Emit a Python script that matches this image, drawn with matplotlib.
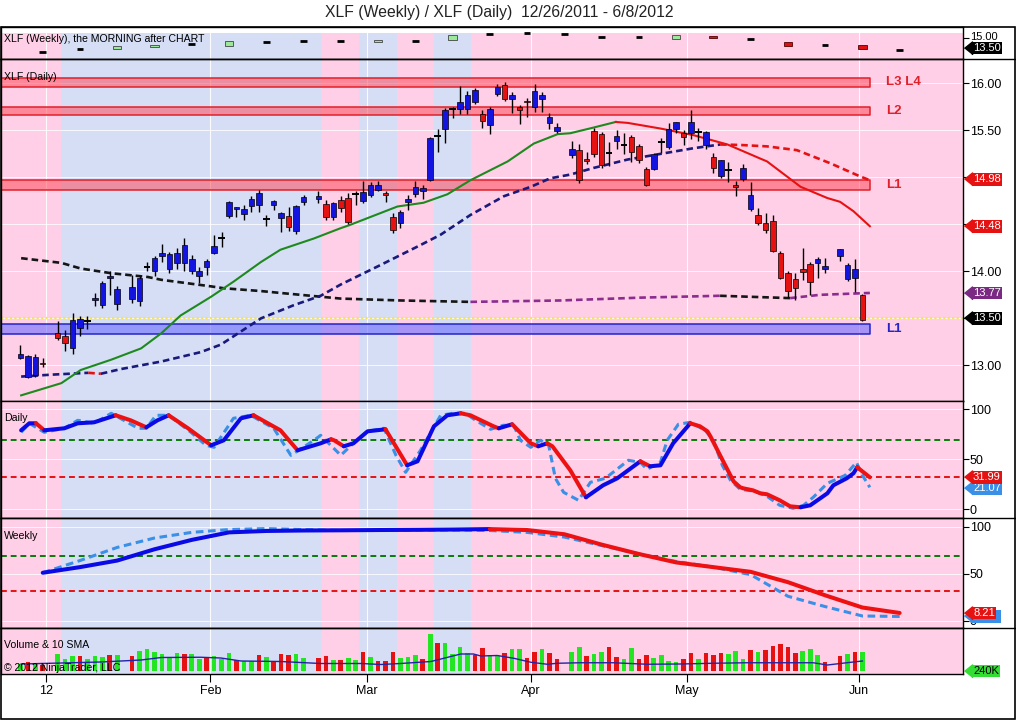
import numpy as np
import pandas as pd
import matplotlib
matplotlib.use("Agg")
import matplotlib.pyplot as plt
from matplotlib.transforms import ScaledTranslation
from matplotlib.lines import Line2D
from matplotlib.patches import Rectangle

plt.rcParams['font.family'] = ['Liberation Sans', 'DejaVu Sans']

# ---------------- data ----------------
# weekday calendar, market holidays are left as empty slots
calendar = pd.bdate_range('2011-12-27', '2012-06-29')
holidays = pd.to_datetime(['2012-01-02', '2012-01-16', '2012-02-20', '2012-04-06', '2012-05-28'])
trade_days = pd.bdate_range('2011-12-27', '2012-06-01').difference(holidays)

opens = [13.08, 12.88, 12.90, 13.02,
         13.34, 13.31, 13.18, 13.40, 13.47, 13.69, 13.64, 13.93, 13.65,
         13.71, 13.68, 14.05, 14.00, 14.16, 14.03, 14.09, 14.09, 14.00, 13.95, 14.05, 14.20,
         14.35, 14.59, 14.66, 14.61, 14.70, 14.71, 14.56, 14.71, 14.57, 14.59, 14.43, 14.74,
         14.77, 14.72, 14.58, 14.76, 14.78, 14.82, 14.75, 14.81, 14.87, 14.83, 14.58, 14.51,
         14.74, 14.82, 14.85, 14.97, 15.44, 15.51, 15.73, 15.73, 15.73, 15.80, 15.67, 15.56,
         15.89, 15.98, 15.83, 15.75, 15.81, 15.75, 15.83, 15.58, 15.49,
         15.24, 15.29, 15.20, 15.49, 15.46, 15.26, 15.39, 15.35, 15.43, 15.33, 15.09, 15.09,
         15.38, 15.32, 15.52, 15.47, 15.47, 15.48, 15.34, 15.22, 15.02, 15.08, 14.92, 14.98,
         14.66, 14.60, 14.51, 14.54, 14.20, 13.98, 13.92, 14.02, 14.08, 14.09, 14.02,
         14.16, 13.92, 13.93, 13.75]
highs = [13.22, 13.11, 13.12, 13.08,
         13.47, 13.38, 13.56, 13.52, 13.53, 13.77, 13.90, 14.00, 13.84,
         13.96, 13.95, 14.10, 14.16, 14.29, 14.21, 14.25, 14.35, 14.17, 14.05, 14.13, 14.39,
         14.42, 14.75, 14.68, 14.71, 14.80, 14.87, 14.60, 14.76, 14.63, 14.68, 14.71, 14.81,
         14.86, 14.76, 14.74, 14.80, 14.83, 14.85, 14.96, 14.95, 14.96, 14.86, 14.62, 14.65,
         14.81, 14.96, 14.92, 15.43, 15.51, 15.74, 15.75, 15.97, 15.92, 15.95, 15.72, 15.75,
         15.99, 16.02, 15.91, 15.77, 15.84, 15.99, 15.91, 15.69, 15.58,
         15.39, 15.36, 15.27, 15.53, 15.48, 15.38, 15.50, 15.47, 15.45, 15.36, 15.11, 15.26,
         15.42, 15.58, 15.59, 15.50, 15.72, 15.53, 15.49, 15.26, 15.19, 15.16, 14.96, 15.14,
         14.95, 14.67, 14.62, 14.60, 14.22, 14.00, 13.98, 14.25, 14.10, 14.15, 14.14,
         14.24, 14.09, 14.13, 13.76]
lows = [13.07, 12.87, 12.88, 12.98,
        13.27, 13.15, 13.12, 13.31, 13.39, 13.63, 13.61, 13.75, 13.59,
        13.66, 13.63, 14.00, 13.95, 14.10, 13.98, 14.03, 14.00, 13.97, 13.88, 13.96, 14.18,
        14.26, 14.57, 14.58, 14.55, 14.63, 14.63, 14.48, 14.65, 14.42, 14.43, 14.40, 14.71,
        14.73, 14.55, 14.55, 14.63, 14.50, 14.71, 14.73, 14.79, 14.85, 14.74, 14.41, 14.46,
        14.65, 14.79, 14.77, 14.96, 15.27, 15.37, 15.63, 15.67, 15.67, 15.78, 15.53, 15.46,
        15.87, 15.81, 15.69, 15.57, 15.64, 15.70, 15.70, 15.51, 15.47,
        15.21, 14.94, 15.14, 15.22, 15.10, 15.12, 15.30, 15.25, 15.16, 15.15, 14.91, 15.08,
        15.26, 15.30, 15.47, 15.34, 15.41, 15.39, 15.30, 15.05, 14.99, 14.95, 14.80, 14.96,
        14.64, 14.49, 14.41, 14.21, 13.92, 13.73, 13.70, 13.91, 13.75, 13.93, 13.98,
        14.11, 13.90, 13.78, 13.47]
closes = [13.12, 13.10, 13.09, 13.01,
          13.29, 13.24, 13.48, 13.49, 13.47, 13.72, 13.88, 13.95, 13.81,
          13.83, 13.93, 14.05, 14.14, 14.19, 14.18, 14.20, 14.28, 14.13, 14.00, 14.11, 14.27,
          14.35, 14.74, 14.68, 14.66, 14.77, 14.83, 14.56, 14.75, 14.62, 14.47, 14.70, 14.79,
          14.80, 14.58, 14.73, 14.67, 14.53, 14.82, 14.84, 14.92, 14.92, 14.81, 14.44, 14.63,
          14.77, 14.90, 14.89, 15.42, 15.44, 15.72, 15.73, 15.80, 15.88, 15.93, 15.60, 15.73,
          15.96, 15.83, 15.88, 15.72, 15.80, 15.92, 15.88, 15.64, 15.54,
          15.30, 14.97, 15.17, 15.25, 15.13, 15.26, 15.44, 15.35, 15.27, 15.19, 14.92, 15.25,
          15.38, 15.51, 15.59, 15.43, 15.59, 15.48, 15.48, 15.10, 15.19, 15.08, 14.90, 15.10,
          14.81, 14.51, 14.44, 14.22, 13.93, 13.79, 13.82, 13.99, 13.89, 14.13, 14.06,
          14.24, 14.07, 14.03, 13.48]

# volume in millions and bar colour (g = up, r = down)
volume = [28, 36, 32, 24,
          68, 48, 60, 60, 48, 60, 55, 64, 64,
          60, 80, 88, 76, 68, 55, 71, 68, 68, 48, 55, 60,
          47, 73, 44, 40, 40, 64, 55, 40, 68, 64, 68, 51,
          51, 60, 44, 44, 51, 44, 75, 55, 40, 40, 75, 51,
          55, 64, 47, 148, 111, 111, 67, 96, 73, 64, 92, 64,
          61, 73, 88, 88, 53, 77, 88, 73, 48,
          77, 97, 60, 68, 77, 97, 57, 47, 93, 48, 64, 53,
          64, 40, 37, 48, 73, 48, 73, 64, 71, 69, 81, 48,
          84, 77, 84, 100, 108, 97, 71, 80, 88, 64, 36,
          59, 68, 75, 77]
vol_dir = list("grgr" "gggrgggrg" "rggggggrggrg" "ggrggrgrrrgg"
               "rrgrggrgrrrg" "ggrgrggggrrg" "grggrrgrrg"
               "grggrrggrrgggg" "rrgrrrgggrgr" "rrrrgggrr" "grgr")
vol_sma_x = [0.1, 5.5, 10.8, 16.2, 18.9, 24.2, 26.9, 29.6, 34.9, 40.3, 45.7, 48.4, 51.0, 55.1,
             59.1, 60.8, 61.8, 64.0, 66.2, 68.5, 70.7, 72.1, 75.2, 79.6, 84.1, 88.6, 93.0,
             97.5, 101.9, 106.4, 108.3, 110.9, 113.0]
vol_sma = [28, 32, 36, 44, 54, 55, 52, 40, 38, 30, 30, 26, 30, 38, 68, 68, 60, 62, 51, 35,
           27, 31, 33, 33, 27, 28, 31, 33, 33, 33, 24, 33, 40]

# moving averages, read at sample points (x = calendar slot)
ma20_x = [0.1, 5.5, 8.1, 12.2, 16.2, 18.9, 21.5, 25.6, 28.6, 32.3, 34.9, 39.4, 43.0, 44.1,
          50.6, 54.1, 57.3, 60.4, 65.4, 68.9, 72.1, 73.8, 76.9, 79.9, 81.5, 85.9, 90.3,
          94.9, 99.3, 100.2, 104.7, 108.3, 110.0, 111.8, 114.0]
ma20 = [12.68, 12.81, 12.95, 13.06, 13.18, 13.34, 13.53, 13.73, 13.89, 14.10, 14.23, 14.35,
        14.46, 14.49, 14.69, 14.73, 14.82, 14.97, 15.17, 15.36, 15.46, 15.47, 15.53, 15.59,
        15.58, 15.52, 15.45, 15.35, 15.20, 15.17, 14.90, 14.78, 14.74, 14.64, 14.48]
ma50_x = [0.1, 4.1, 9.1, 10.8, 13.5, 18.9, 24.2, 26.9, 29.6, 32.3, 36.7, 40.3, 43.0, 48.4,
          53.7, 56.4, 60.4, 64.9, 68.5, 71.1, 73.8, 76.9, 81.5, 85.9, 90.3, 93.9, 96.6,
          100.2, 104.2, 108.7, 112.7, 114.0]
ma50 = [12.88, 12.90, 12.92, 12.91, 12.96, 13.04, 13.14, 13.22, 13.36, 13.50, 13.64, 13.74,
        13.86, 14.07, 14.28, 14.39, 14.60, 14.80, 14.90, 14.99, 15.03, 15.10, 15.19, 15.25,
        15.31, 15.35, 15.345, 15.33, 15.29, 15.15, 15.01, 14.97]
ma200_x = [0.1, 5.5, 8.1, 12.2, 17.1, 18.9, 25.6, 27.3, 32.3, 34.9, 43.0, 51.0, 60.4, 72.5,
           83.2, 93.9, 103.3, 107.3, 114.0]
ma200 = [14.14, 14.09, 14.03, 13.98, 13.94, 13.91, 13.84, 13.82, 13.79, 13.77, 13.71, 13.69,
         13.675, 13.69, 13.72, 13.74, 13.715, 13.75, 13.77]

# support / resistance zones
zone_names = ['L3 L4', 'L2', 'L1', 'L1']
zone_lo = [15.96, 15.66, 14.87, 13.33]
zone_hi = [16.06, 15.75, 14.97, 13.44]
zone_kind = ['res', 'res', 'res', 'sup']
last_price = 13.50

# weekly bars (strip on top), one per Friday
week_ends = pd.date_range('2011-12-30', '2012-06-08', freq='W-FRI')
week_open = [12.95, 13.31, 13.35, 13.70, 14.03, 13.80, 14.45, 14.55, 14.60, 14.40, 14.60, 14.75,
             15.60, 15.70, 15.60, 15.10, 15.10, 14.90, 15.35, 14.80, 14.45, 13.95, 14.00, 13.20]
week_close = [12.95, 13.31, 13.75, 14.00, 14.03, 14.50, 14.45, 14.55, 14.60, 14.70, 14.60, 15.45,
              15.60, 15.70, 15.60, 15.10, 15.10, 15.50, 15.05, 14.80, 13.75, 13.95, 13.40, 13.20]

# stochastics
daily_d_x = [0.1, 1.2, 2.1, 3.2, 5.9, 7.7, 9.9, 12.8, 14.8, 16.9, 18.4, 19.9, 22.5, 25.6, 27.3,
             29.6, 31.3, 34.9, 37.2, 40.3, 41.7, 42.1, 43.4, 44.7, 46.6, 49.0, 51.9, 53.3, 55.5,
             57.3, 59.1, 60.4, 63.5, 64.2, 66.0, 68.5, 69.5, 70.7, 71.4, 73.8, 75.9, 78.2, 80.1,
             83.2, 84.5, 85.9, 87.6, 89.9, 91.2, 92.2, 92.6, 93.9, 95.7, 96.6, 97.0, 98.3, 99.3,
             100.2, 101.9, 103.3, 104.7, 106.0, 108.3, 109.1, 110.9, 111.8, 112.3, 114.0]
daily_d = [79, 86, 86, 79, 81, 86, 87, 94, 89, 82, 89, 94, 81, 64, 69, 91, 94, 79, 59, 66, 70,
           69, 63, 66, 78, 80, 44, 48, 83, 94, 96, 94, 83, 81, 85, 66, 63, 66, 63, 39, 12, 24,
           31, 48, 43, 44, 66, 86, 83, 78, 73, 54, 28, 22, 21, 19, 16, 15, 9, 3, 2, 4, 16, 24,
           31, 36, 42, 32]
daily_k_x = [0.1, 1.2, 3.2, 5.9, 7.7, 9.9, 12.2, 15.8, 16.9, 18.2, 19.9, 22.9, 24.9, 26.0, 28.6,
             30.9, 34.0, 36.3, 39.4, 40.3, 43.0, 45.1, 46.6, 48.8, 50.4, 51.7, 53.7, 56.4, 58.0,
             59.7, 61.1, 63.1, 64.8, 66.2, 67.1, 68.5, 69.8, 70.9, 71.8, 72.9, 74.9, 76.5, 78.5,
             81.6, 83.2, 84.1, 85.9, 86.8, 88.3, 89.9, 91.9, 93.0, 94.2, 95.3, 96.6, 98.6, 100.2,
             101.9, 103.7, 105.1, 106.4, 108.3, 110.7, 112.2, 113.0, 114.0]
daily_k = [77, 86, 77, 81, 89, 86, 96, 81, 81, 94, 94, 77, 64, 62, 91, 94, 81, 54, 69, 74, 54,
           69, 78, 81, 54, 37, 59, 94, 96, 96, 89, 80, 84, 84, 69, 62, 69, 64, 31, 17, 9, 27,
           31, 49, 47, 40, 47, 69, 85, 87, 79, 69, 44, 29, 20, 18, 13, 4, 1, 4, 12, 26, 34, 47,
           34, 22]
weekly_d = [51, 57, 64, 76, 86, 94, 95.5, 96, 96.2, 96.5, 96.7, 97, 97.5, 96.5, 92, 81, 71, 62,
            57, 52, 41, 27, 14, 8.21]
weekly_k = [51, 64, 78, 88, 94, 97, 98, 97, 96, 96, 96.5, 96.5, 96, 94, 89, 80, 71, 63, 57, 49,
            26, 15, 5, 4.5]
overbought, oversold = 69, 32

# background regime shading
regime_edges = [-3, 5.5, 40.5, 45.5, 50.5, 55.5, 60.5, 130]
regime_kind = ['pink', 'blue', 'pink', 'blue', 'pink', 'blue', 'pink']

month_starts = pd.to_datetime(['2012-01-01', '2012-02-01', '2012-03-01', '2012-04-01',
                               '2012-05-01', '2012-06-01'])
month_labels = ['12', 'Feb', 'Mar', 'Apr', 'May', 'Jun']

# ---------------- derived positions ----------------
day_x = calendar.get_indexer(trade_days).astype(float)
week_x = calendar.get_indexer(week_ends).astype(float)
month_x = calendar.searchsorted(month_starts) - 0.5
o, h, l, c = map(np.array, (opens, highs, lows, closes))
band_end = day_x[-1] + 1

PINK = '#FFCFE7'
BLUE = '#D6DEF5'
UPC = '#1414E0'
DNC = '#E61212'
LBL = 7.6

fig = plt.figure(figsize=(10.16, 7.2), dpi=100)
W, H = 1016, 720


def panel(top, bottom):
    return fig.add_axes([1 / W, 1 - bottom / H, 962 / W, (bottom - top) / H])


ax_w = panel(27, 59)
ax_p = panel(59, 401)
ax_d = panel(401, 518)
ax_k = panel(518, 628)
ax_v = panel(628, 674)
axes = [ax_w, ax_p, ax_d, ax_k, ax_v]

for ax in axes:
    ax.set_xlim(-2.6, 126.5)
    top = 0.8 if ax is ax_w else 1
    for lo, hi, kind in zip(regime_edges[:-1], regime_edges[1:], regime_kind):
        ax.axvspan(lo, hi, ymin=0, ymax=top, color=PINK if kind == 'pink' else BLUE, lw=0, zorder=0)
    for mx in month_x:
        ax.axvline(mx, color='white', lw=0.8, alpha=0.9, zorder=0.5)
    ax.yaxis.tick_right()
    ax.tick_params(axis='y', direction='out', length=4, labelsize=9, pad=1, width=0.8)
    ax.tick_params(axis='x', length=0, labelbottom=False)
    for s in ax.spines.values():
        s.set_linewidth(1.0)
        s.set_color('black')


def slope_line(ax, xs, ys, up, down, **kw):
    xs, ys = np.asarray(xs, float), np.asarray(ys, float)
    cols = np.where(np.diff(ys) >= 0, 0, 1)
    start = 0
    for i in range(1, len(cols) + 1):
        if i == len(cols) or cols[i] != cols[start]:
            ax.plot(xs[start:i + 1], ys[start:i + 1], color=up if cols[start] == 0 else down, **kw)
            start = i


def tag(ax, y, text, fc, tc='white'):
    base = ax.get_yaxis_transform()
    tri = Line2D([1.0], [y], marker=[(-0.62, 0), (0.62, 1), (0.62, -1)], ms=9.4, color=fc,
                 mec=fc, transform=base + ScaledTranslation(5 / 100, 0, fig.dpi_scale_trans),
                 clip_on=False, zorder=20)
    ax.add_line(tri)
    if text:
        ax.text(1.0, y, text, transform=base + ScaledTranslation(10 / 100, 0, fig.dpi_scale_trans),
                ha='left', va='center', fontsize=8, color=tc, clip_on=False, zorder=21,
                bbox=dict(boxstyle='square,pad=0.12', fc=fc, ec='none'))
    else:
        # tag hidden behind another one: only its box is drawn
        y0, y1 = ax.get_ylim()
        hh = 13 * (y1 - y0) / (ax.bbox.height)
        ax.add_patch(Rectangle((1.0, y - hh / 2), 30 / ax.bbox.width, hh, fc=fc, ec='none',
                               transform=base + ScaledTranslation(8 / 100, 0, fig.dpi_scale_trans),
                               clip_on=False, zorder=19))


# ---------------- weekly strip ----------------
ax_w.set_ylim(11.85, 16.65)
wo, wc = np.array(week_open), np.array(week_close)
flat = wo == wc
up = wc > wo
dn = wc < wo
ax_w.hlines(wo[flat], week_x[flat] - 0.45, week_x[flat] + 0.45, color='black', lw=2, zorder=3)
ax_w.bar(week_x[up], (wc - wo)[up], bottom=wo[up], width=1.1, color='#9BE89B',
         edgecolor='#444444', lw=0.6, zorder=3)
ax_w.bar(week_x[dn], (wo - wc)[dn], bottom=wc[dn], width=1.1, color='#DD1111',
         edgecolor='#550000', lw=0.6, zorder=3)
ax_w.set_yticks([15.0])
ax_w.set_yticklabels(['15.00'])
ax_w.tick_params(axis='y', labelsize=8)
for lab in ax_w.get_yticklabels():
    lab.set_transform(lab.get_transform() + ScaledTranslation(0, 2.5 / 100, fig.dpi_scale_trans))
ax_w.text(0.003, 0.62, 'XLF (Weekly), the MORNING after CHART', transform=ax_w.transAxes,
          fontsize=LBL, va='center', ha='left', zorder=10)

# ---------------- price panel ----------------
ax_p.set_ylim(12.62, 16.26)
for gy in np.arange(13.0, 16.01, 0.5):
    ax_p.axhline(gy, color='white', lw=0.7, alpha=0.8, zorder=0.5)
for name, lo, hi, kind in zip(zone_names, zone_lo, zone_hi, zone_kind):
    ec = '#E0202A' if kind == 'res' else '#2424C8'
    fc = (1.0, 0.30, 0.36, 0.55) if kind == 'res' else (0.42, 0.42, 1.0, 0.6)
    ax_p.fill_between([-2.6, band_end], lo, hi, facecolor=fc, edgecolor=ec, lw=1.1, zorder=1)
    ax_p.text(band_end + 2.2, (lo + hi) / 2, name, color=ec, fontsize=9.5, fontweight='bold',
              va='center', ha='left', zorder=5)
ax_p.axhline(last_price, color='#F2E35A', lw=1.6, ls=(0, (1, 1)), zorder=1.5)

slope_line(ax_p, ma200_x, ma200, '#8B2C8F', '#151515', lw=1.9, ls=(0, (2.5, 1.5)), zorder=2)
slope_line(ax_p, ma50_x, ma50, '#1A1A7A', '#E61212', lw=1.9, ls=(0, (2.5, 1.5)), zorder=2)
slope_line(ax_p, ma20_x, ma20, '#1E8A1E', '#E61212', lw=1.5, zorder=2)

body_lo = np.minimum(o, c)
body_h = np.maximum(np.abs(c - o), 0.018)
cu, cd, cf = c > o, c < o, c == o
ax_p.vlines(day_x, l, h, color='black', lw=1.0, zorder=3)
ax_p.bar(day_x[cu], body_h[cu], bottom=body_lo[cu], width=0.74, color=UPC,
         edgecolor='black', lw=0.5, zorder=4)
ax_p.bar(day_x[cd], body_h[cd], bottom=body_lo[cd], width=0.74, color=DNC,
         edgecolor='black', lw=0.5, zorder=4)
ax_p.hlines(o[cf], day_x[cf] - 0.45, day_x[cf] + 0.45, color='black', lw=1.4, zorder=4)

ax_p.set_yticks(np.arange(13.0, 16.01, 0.5))
ax_p.set_yticklabels(['13.00', '', '14.00', '', '', '15.50', '16.00'])
ax_p.text(0.003, 0.947, 'XLF (Daily)', transform=ax_p.transAxes, fontsize=LBL,
          va='center', ha='left', zorder=10)

# ---------------- stochastic panels ----------------
for ax in (ax_d, ax_k):
    ax.axhline(overbought, color='#0A7A0A', lw=1.4, ls=(0, (3, 2)), zorder=1)
    ax.axhline(oversold, color='#E61212', lw=1.4, ls=(0, (3, 2)), zorder=1)
    ax.set_yticks([0, 50, 100])
    ax.set_yticklabels(['0', '50', '100'])
    for gy in (0, 50, 100):
        ax.axhline(gy, color='white', lw=0.7, alpha=0.8, zorder=0.5)

ax_d.set_ylim(-8.7, 108.3)
ax_d.plot(daily_k_x, daily_k, color='#3A8FE6', lw=2.2, ls=(0, (2.5, 1.5)), zorder=3)
slope_line(ax_d, daily_d_x, daily_d, '#0A0AE6', '#EE1111', lw=2.9, zorder=4,
           solid_capstyle='round')
ax_d.text(0.003, 0.855, 'Daily', transform=ax_d.transAxes, fontsize=LBL, va='center', ha='left')

ax_k.set_ylim(-7.8, 109.3)
ax_k.plot(week_x, weekly_k, color='#3A8FE6', lw=2.2, ls=(0, (2.5, 1.5)), zorder=3)
slope_line(ax_k, week_x, weekly_d, '#0A0AE6', '#EE1111', lw=2.9, zorder=4,
           solid_capstyle='round')
ax_k.text(0.003, 0.836, 'Weekly', transform=ax_k.transAxes, fontsize=LBL, va='center', ha='left')

# ---------------- volume ----------------
vol = np.array(volume, float)
vcol = ['#22E622' if d == 'g' else DNC for d in vol_dir]
ax_v.set_ylim(-12, 172)
ax_v.bar(day_x, vol, width=0.62, color=vcol, lw=0, zorder=2)
ax_v.plot(vol_sma_x, vol_sma, color='#2323A8', lw=1.0, zorder=3)
ax_v.set_yticks([])
ax_v.text(0.003, 0.63, 'Volume & 10 SMA', transform=ax_v.transAxes, fontsize=LBL,
          va='center', ha='left', zorder=10)
ax_v.text(0.003, 0.13, '\u00a9 2012 NinjaTrader, LLC', transform=ax_v.transAxes, fontsize=LBL,
          va='center', ha='left', zorder=10)
ax_v.set_xticks(month_x)
ax_v.set_xticklabels(month_labels)
ax_v.tick_params(axis='x', direction='out', length=6, labelbottom=True, labelsize=9, pad=2)

# ---------------- price tags on the right axis ----------------
tag(ax_w, 13.50, '13.50', 'black')
tag(ax_p, 14.98, '14.98', DNC)
tag(ax_p, 14.48, '14.48', DNC)
tag(ax_p, 13.77, '13.77', '#7A2A82')
tag(ax_p, 13.50, '13.50', 'black')
tag(ax_d, 21.07, '21.07', '#3A8FE6')
tag(ax_d, 31.99, '31.99', DNC)
tag(ax_k, weekly_k[-1], '', '#3A8FE6')
tag(ax_k, weekly_d[-1], f'{weekly_d[-1]:.2f}', DNC)
tag(ax_v, 0, '240K', '#33DD33', tc='black')

# ---------------- frame & title ----------------
for ypx in (59, 518, 628):
    fig.add_artist(Line2D([0, 1], [1 - ypx / H] * 2, transform=fig.transFigure,
                          color='black', lw=1.0))
fig.add_artist(Rectangle((0.5 / W, 1.5 / H), 1014 / W, 1 - 27 / H - 1.5 / H, fill=False,
                         transform=fig.transFigure, lw=1.2, ec='black'))
fig.text(499.5 / W, 1 - 12 / H, 'XLF (Weekly) / XLF (Daily)  12/26/2011 - 6/8/2012',
         ha='center', va='center', fontsize=11.3, color='#222222')

fig.savefig('out.png', dpi=100)
